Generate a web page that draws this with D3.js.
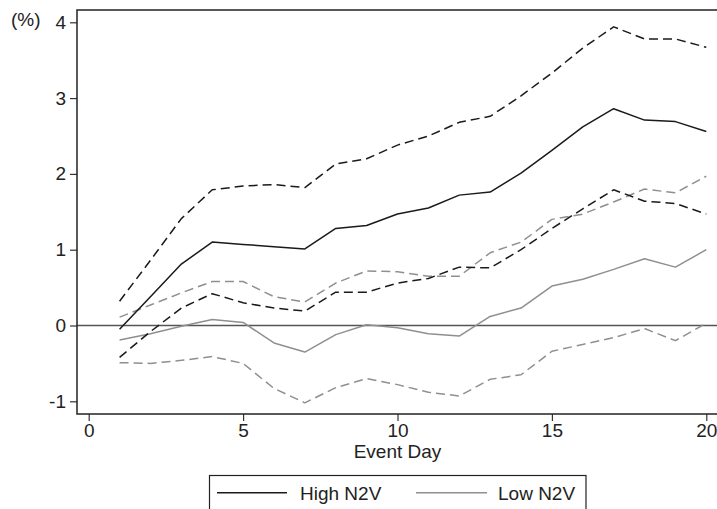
<!DOCTYPE html>
<html>
<head>
<meta charset="utf-8">
<script src="https://cdn.jsdelivr.net/npm/d3@7/dist/d3.min.js"></script>
<style>
  html, body { margin: 0; padding: 0; background: #fff; }
  svg { display: block; font-family: "Liberation Sans", Arial, Helvetica, sans-serif; }
</style>
</head>
<body>
<svg id="chart" width="717" height="509"></svg>
<script>
// Event days 1..20
const days = [1,2,3,4,5,6,7,8,9,10,11,12,13,14,15,16,17,18,19,20];

// High N2V: estimate and 95% bounds (%)
const highMean  = [-0.05,0.38,0.81,1.10,1.07,1.04,1.01,1.28,1.32,1.47,1.55,1.72,1.76,2.01,2.31,2.62,2.86,2.71,2.69,2.56];
const highUpper = [0.32,0.86,1.41,1.79,1.84,1.86,1.82,2.13,2.20,2.38,2.50,2.68,2.76,3.03,3.33,3.66,3.94,3.78,3.78,3.67];
const highLower = [-0.42,-0.08,0.23,0.42,0.30,0.23,0.19,0.44,0.44,0.56,0.62,0.77,0.76,1.00,1.28,1.54,1.79,1.64,1.61,1.47];

// Low N2V: estimate and 95% bounds (%)
const lowMean  = [-0.19,-0.11,-0.01,0.08,0.04,-0.23,-0.35,-0.12,0.01,-0.03,-0.11,-0.14,0.12,0.23,0.52,0.61,0.74,0.88,0.77,1.00];
const lowUpper = [0.11,0.27,0.43,0.58,0.58,0.38,0.31,0.56,0.72,0.71,0.65,0.65,0.96,1.10,1.40,1.47,1.63,1.80,1.75,1.97];
const lowLower = [-0.49,-0.50,-0.46,-0.41,-0.50,-0.83,-1.02,-0.82,-0.70,-0.78,-0.88,-0.93,-0.71,-0.65,-0.34,-0.25,-0.16,-0.04,-0.20,0.03];

const xTicks = [0,5,10,15,20];
const yTicks = [-1,0,1,2,3,4];
const legendLabels = ["High N2V", "Low N2V"];

(function draw() {
  const svg = d3.select("#chart");
  const FONT = 19;
  const BLACK = "#1a1a1a";
  const GRAY = "#8f8f8f";
  const plain = d => String(d);   // hyphen-minus labels

  // plot region
  const pL = 77, pR = 719, pT = 10, pB = 414;

  const x = d3.scaleLinear().domain([0, 20]).range([88.7, 706.3]);
  const y = d3.scaleLinear().domain([-1, 4]).range([401.3, 22.3]);

  // y axis
  const yAxis = d3.axisLeft(y).tickValues(yTicks).tickSize(7).tickPadding(4).tickFormat(plain);
  const gy = svg.append("g").attr("transform", `translate(${pL},0)`).call(yAxis);
  gy.select(".domain").remove();
  gy.selectAll(".tick line").attr("stroke", "#333").attr("stroke-width", 1.2);
  gy.selectAll(".tick text").attr("font-size", FONT).attr("fill", "#222")
    .attr("font-family", "Liberation Sans, Arial, sans-serif");

  // x axis
  const xAxis = d3.axisBottom(x).tickValues(xTicks).tickSize(7).tickPadding(3).tickFormat(plain);
  const gx = svg.append("g").attr("transform", `translate(0,${pB})`).call(xAxis);
  gx.select(".domain").remove();
  gx.selectAll(".tick line").attr("stroke", "#333").attr("stroke-width", 1.2);
  gx.selectAll(".tick text").attr("font-size", FONT).attr("fill", "#222")
    .attr("font-family", "Liberation Sans, Arial, sans-serif");

  // axis titles
  svg.append("text").attr("x", 397.5).attr("y", 458).attr("text-anchor", "middle")
    .attr("font-size", FONT).attr("fill", "#222").text("Event Day");
  svg.append("text").attr("x", 11).attr("y", 26).attr("text-anchor", "start")
    .attr("font-size", FONT).attr("fill", "#222").text("(%)");

  // zero reference line
  svg.append("line").attr("x1", pL).attr("x2", pR).attr("y1", y(0)).attr("y2", y(0))
    .attr("stroke", "#555").attr("stroke-width", 1.5);

  const line = d3.line().x((d, i) => x(days[i])).y(d => y(d));

  const series = [
    { values: lowUpper,  color: GRAY,  dash: "9,5", w: 1.5 },
    { values: lowLower,  color: GRAY,  dash: "9,5", w: 1.5 },
    { values: lowMean,   color: GRAY,  dash: null,  w: 1.5 },
    { values: highUpper, color: BLACK, dash: "9,5", w: 1.5 },
    { values: highLower, color: BLACK, dash: "9,5", w: 1.5 },
    { values: highMean,  color: BLACK, dash: null,  w: 1.5 }
  ];

  svg.append("g").selectAll("path").data(series).join("path")
    .attr("d", s => line(s.values))
    .attr("fill", "none")
    .attr("stroke", s => s.color)
    .attr("stroke-width", s => s.w)
    .attr("stroke-dasharray", s => s.dash)
    .attr("stroke-linejoin", "round");

  // frame
  svg.append("rect").attr("x", pL).attr("y", pT)
    .attr("width", pR - pL).attr("height", pB - pT)
    .attr("fill", "none").attr("stroke", "#222").attr("stroke-width", 1.5);

  // legend
  const lg = svg.append("g");
  lg.append("rect").attr("x", 209.5).attr("y", 475.5).attr("width", 376.5).attr("height", 50)
    .attr("fill", "#fff").attr("stroke", "#222").attr("stroke-width", 1.2);
  const legendItems = [
    { label: legendLabels[0], color: BLACK, x1: 217, x2: 287, tx: 300 },
    { label: legendLabels[1], color: GRAY,  x1: 416, x2: 487, tx: 498 }
  ];
  legendItems.forEach(it => {
    lg.append("line").attr("x1", it.x1).attr("x2", it.x2).attr("y1", 492.7).attr("y2", 492.7)
      .attr("stroke", it.color).attr("stroke-width", 1.6);
    lg.append("text").attr("x", it.tx).attr("y", 499.5).attr("font-size", FONT)
      .attr("fill", "#222").text(it.label);
  });
})();
</script>
</body>
</html>
